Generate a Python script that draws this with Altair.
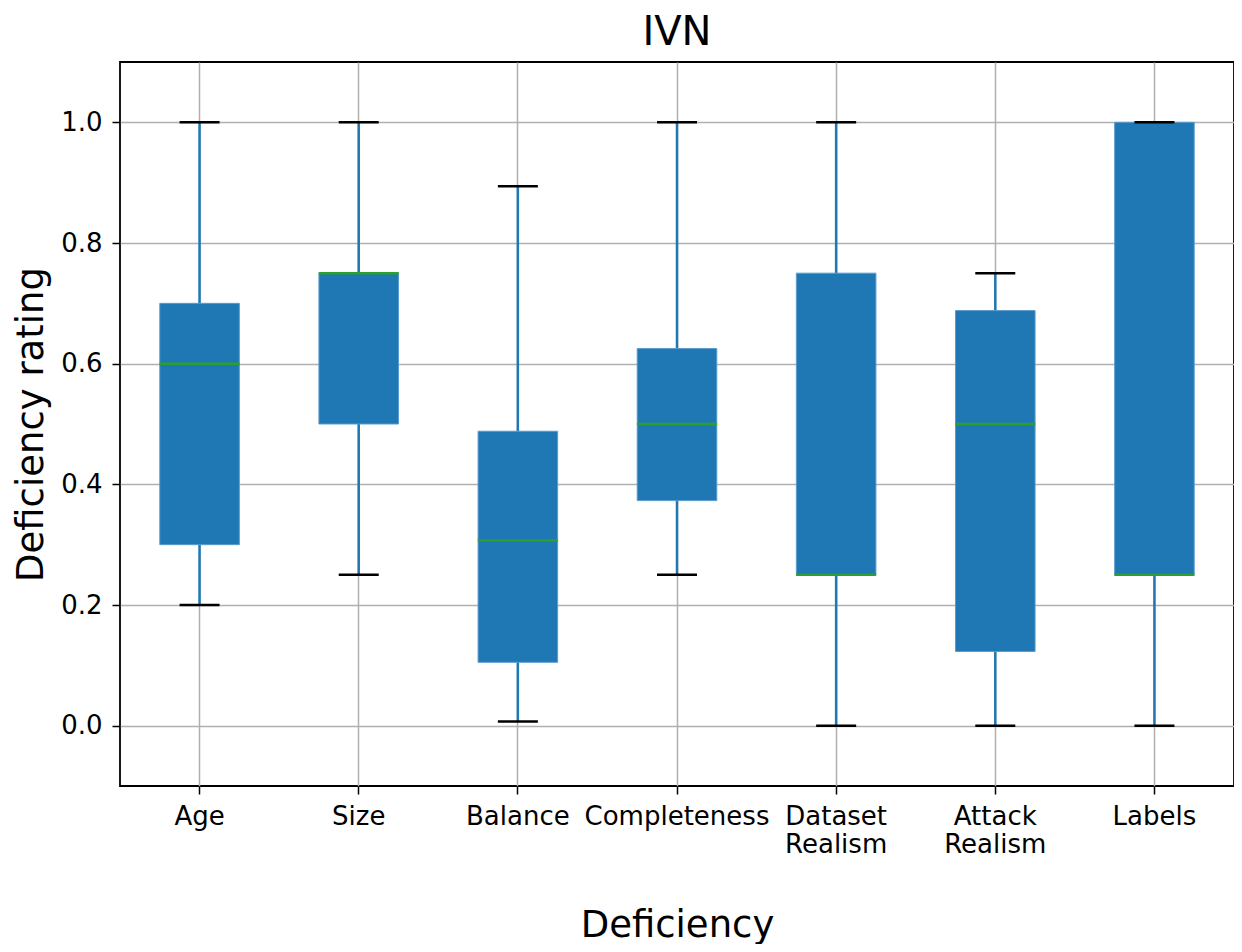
import altair as alt
import pandas as pd

categories = ["Age", "Size", "Balance", "Completeness", "Dataset Realism", "Attack Realism", "Labels"]
whisker_low = [0.20, 0.25, 0.007, 0.25, 0.00, 0.00, 0.00]
q1 = [0.30, 0.50, 0.105, 0.373, 0.25, 0.123, 0.25]
median = [0.60, 0.75, 0.307, 0.50, 0.25, 0.50, 0.25]
q3 = [0.70, 0.75, 0.488, 0.625, 0.75, 0.688, 1.00]
whisker_high = [1.00, 1.00, 0.894, 1.00, 1.00, 0.75, 1.00]
y_ticks = [0.0, 0.2, 0.4, 0.6, 0.8, 1.0]

df = pd.DataFrame({
    "cat": categories,
    "low": whisker_low,
    "q1": q1,
    "med": median,
    "q3": q3,
    "high": whisker_high,
})

FONT = "DejaVu Sans"
BLUE = "#1f77b4"

x_enc = alt.X(
    "cat:N",
    sort=categories,
    title="Deficiency",
    scale=alt.Scale(paddingInner=0.5, paddingOuter=0.25),
    axis=alt.Axis(
        labelAngle=0,
        labelExpr="split(datum.label, ' ')",
        labelFontSize=26,
        labelLineHeight=28,
        labelFont=FONT,
        labelColor="black",
        labelPadding=9,
        labelLimit=0,
        tickSize=8,
        tickColor="black",
        tickWidth=1.5,
        bandPosition=0.5,
        grid=True,
        gridColor="#b0b0b0",
        gridWidth=1.5,
        domain=False,
        titleFontSize=37,
        titleFont=FONT,
        titleFontWeight="normal",
        titleColor="black",
        titlePadding=50,
    ),
)

y_scale = alt.Scale(domain=[-0.1, 1.1], nice=False, zero=False)
y_axis = alt.Axis(
    values=y_ticks,
    format=".1f",
    labelFontSize=26,
    labelFont=FONT,
    labelColor="black",
    labelPadding=10,
    tickSize=8,
    tickColor="black",
    tickWidth=1.5,
    grid=True,
    gridColor="#b0b0b0",
    gridWidth=1.5,
    domain=False,
    title="Deficiency rating",
    titleFontSize=37,
    titleFont=FONT,
    titleFontWeight="normal",
    titleColor="black",
    titlePadding=10,
)

base = alt.Chart(df)

whiskers = base.mark_rule(color=BLUE, strokeWidth=2.5).encode(
    x=x_enc,
    y=alt.Y("low:Q", scale=y_scale, axis=y_axis),
    y2="high:Q",
)

boxes = base.mark_bar(color=BLUE, stroke="#5a9bd0", strokeWidth=1, opacity=1).encode(
    x=x_enc,
    y=alt.Y("q1:Q", scale=y_scale, axis=y_axis),
    y2="q3:Q",
)

caps_low = base.mark_tick(color="black", size=40, thickness=2.5, opacity=1).encode(
    x=x_enc, y=alt.Y("low:Q", scale=y_scale, axis=y_axis)
)
caps_high = base.mark_tick(color="black", size=40, thickness=2.5, opacity=1).encode(
    x=x_enc, y=alt.Y("high:Q", scale=y_scale, axis=y_axis)
)
medians = base.mark_tick(color="#2ca02c", size=80, thickness=2.5, opacity=1).encode(
    x=x_enc, y=alt.Y("med:Q", scale=y_scale, axis=y_axis)
)

chart = alt.layer(whiskers, boxes, caps_low, caps_high, medians).properties(
    width=1114,
    height=724,
    title=alt.TitleParams(
        text="IVN",
        fontSize=40,
        font=FONT,
        fontWeight="normal",
        color="black",
        anchor="middle",
        offset=9,
    ),
    autosize=alt.AutoSizeParams(type="none"),
    padding={"left": 112, "top": 54, "right": 0, "bottom": 158},
).configure(background="white").configure_view(
    stroke="black", strokeWidth=1.8
)

chart.save("out.html", embed_options={"renderer": "svg", "actions": False})
